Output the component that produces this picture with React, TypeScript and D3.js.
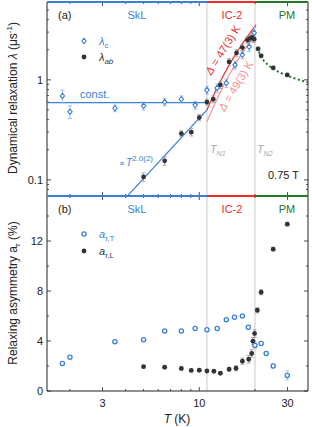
import React from 'react';
import * as d3 from 'd3';

// panel (a): relaxation rate lambda (us^-1)
const tempsC = [1.82, 2.0, 3.5, 5.0, 6.5, 8.0, 9.5, 11.0, 12.5, 14.0, 15.6, 17.1, 18.6, 19.8];
const lambdaC = [0.69, 0.48, 0.52, 0.55, 0.6, 0.64, 0.56, 0.79, 0.83, 0.93, 1.41, 1.78, 2.14, 2.95];
const lambdaCErr = [0.1, 0.07, 0.04, 0.05, 0.05, 0.05, 0.05, 0.07, 0.08, 0.09, 0.13, 0.16, 0.22, 0.4];

const tempsAB = [5.0, 6.5, 8.0, 9.05, 10.0, 11.0, 11.9, 13.0, 14.5, 15.9, 17.1, 18.2, 18.8, 19.3, 19.8, 20.8, 21.6, 25.1, 29.9];
const lambdaAB = [0.107, 0.155, 0.29, 0.3, 0.42, 0.6, 0.64, 0.89, 1.51, 1.86, 2.1, 2.5, 2.6, 2.65, 2.55, 2.04, 1.74, 1.32, 1.12];
const lambdaABErr = [0.01, 0.015, 0.02, 0.025, 0.03, 0.04, 0.05, 0.07, 0.12, 0.14, 0.15, 0.18, 0.2, 0.22, 0.2, 0.08, 0.06, 0.05, 0.04];

// panel (b): relaxing asymmetry (%)
const tempsT = [1.82, 2.0, 3.5, 5.0, 6.5, 8.0, 9.5, 11.0, 12.5, 14.0, 15.5, 17.1, 18.4, 20.0, 21.6, 23.0, 25.1, 29.9];
const asymT = [2.2, 2.7, 3.95, 4.1, 4.8, 4.8, 5.0, 4.9, 5.0, 5.7, 5.9, 6.0, 5.1, 3.65, 3.8, 3.0, 2.0, 1.25];
const asymTErr = [0.1, 0.1, 0.1, 0.1, 0.1, 0.1, 0.1, 0.1, 0.1, 0.1, 0.1, 0.1, 0.15, 0.2, 0.15, 0.15, 0.15, 0.35];

const tempsL = [5.0, 6.5, 8.0, 9.05, 10.0, 11.0, 12.0, 13.0, 14.5, 15.8, 17.1, 18.5, 19.2, 19.5, 19.9, 20.6, 21.6, 25.1, 29.9];
const asymL = [1.95, 1.9, 1.8, 1.65, 1.66, 1.6, 1.58, 1.42, 1.74, 1.82, 2.38, 2.54, 3.0, 3.98, 4.6, 6.46, 7.9, 11.35, 13.35];
const asymLErr = [0.1, 0.1, 0.1, 0.1, 0.1, 0.1, 0.1, 0.1, 0.15, 0.2, 0.25, 0.3, 0.3, 0.3, 0.3, 0.2, 0.2, 0.15, 0.15];

// fits and transitions
const TN1 = 11;
const TN2 = 20;
const constLambda = 0.593;
const powerAmp = 0.5; // lambda = powerAmp * (T / TN1)^2
const powerExp = 2.0;
const gap1 = 47, gap1Start = 0.5;
const gap2 = 49, gap2Start = 0.38;
const pmAmp = 0.93, pmExp = 0.24;

const xTicksMajor = [3, 10, 30];
const yTicksA = [0.1, 1];
const yTicksB = [0, 4, 8, 12];

const BLUE = '#3b7fd6';
const RED = '#ee2b2b';
const PINK = '#f49191';
const GREEN = '#23782a';
const DARK = '#333';
const FONT = 'Liberation Sans, Arial, sans-serif';

const L = 47, R = 308, aTop = 2, mid = 196, bBot = 391;

export default function App() {
  const x = d3.scaleLog().domain([1.503, 38.7]).range([L, R]);
  const yA = d3.scaleLog().domain([0.069, 6]).range([mid, aTop]);
  const yB = d3.scaleLinear().domain([0, 15.6]).range([bBot, mid]);

  const xMinor = x.ticks().filter(t => t > 1.5 && t < 38.7);
  const yAMinor = yA.ticks().filter(t => t >= 0.069 && t <= 6);
  const yBMinor = d3.range(0, 16, 2);

  const lineA = d3.line<[number, number]>().x(d => x(d[0])).y(d => yA(d[1]));
  const sample = (t0: number, t1: number, f: (t: number) => number) =>
    d3.range(0, 41).map(i => {
      const t = t0 * Math.pow(t1 / t0, i / 40);
      return [t, f(t)] as [number, number];
    });

  const powerLo = TN1 * Math.sqrt(0.069 / powerAmp);
  const powerPts = sample(powerLo, TN1, t => powerAmp * Math.pow(t / TN1, powerExp));
  const gap1Pts = sample(TN1, 20.3, t => gap1Start * Math.exp(gap1 * (1 / TN1 - 1 / t)));
  const gap2Pts = sample(TN1, 20.1, t => gap2Start * Math.exp(gap2 * (1 / TN1 - 1 / t)));
  const pmPts = sample(21.0, 38.7, t => pmAmp * Math.pow((t - TN2) / TN2, -pmExp));

  const diamond = (cx: number, cy: number, k: number) => (
    <path key={k} d={`M${cx},${cy - 2.7}L${cx + 2.2},${cy}L${cx},${cy + 2.7}L${cx - 2.2},${cy}Z`}
      fill="white" stroke={BLUE} strokeWidth={1.1} />
  );

  const errBar = (cx: number, y1: number, y2: number, color: string, k: string) => (
    <g key={k} stroke={color} strokeWidth={0.8}>
      <line x1={cx} x2={cx} y1={y1} y2={y2} />
      <line x1={cx - 2} x2={cx + 2} y1={y1} y2={y1} />
      <line x1={cx - 2} x2={cx + 2} y1={y2} y2={y2} />
    </g>
  );

  const phaseLine = (y: number) => (
    <g strokeWidth={2}>
      <line x1={L} x2={x(TN1)} y1={y} y2={y} stroke={BLUE} />
      <line x1={x(TN1)} x2={x(TN2)} y1={y} y2={y} stroke={RED} />
      <line x1={x(TN2)} x2={R} y1={y} y2={y} stroke={GREEN} />
    </g>
  );

  const phaseLabels = (y: number) => (
    <g fontSize={11} textAnchor="middle">
      <text x={137} y={y} fill={BLUE}>SkL</text>
      <text x={232} y={y} fill={RED}>IC-2</text>
      <text x={287} y={y} fill={GREEN}>PM</text>
    </g>
  );

  return (
    <svg width={312} height={427} style={{ position: 'absolute', left: 0, top: 0, fontFamily: FONT }}>
      <rect width={312} height={427} fill="white" />

      {/* transition markers */}
      {[TN1, TN2].map(t => (
        <line key={t} x1={x(t)} x2={x(t)} y1={aTop} y2={bBot} stroke="#dcdcdc" strokeWidth={1.5} />
      ))}

      {/* frame */}
      <g stroke="#222" strokeWidth={1} fill="none">
        <line x1={L} x2={L} y1={aTop} y2={bBot} />
        <line x1={R} x2={R} y1={aTop} y2={bBot} />
        <line x1={L} x2={R} y1={bBot} y2={bBot} />
      </g>

      {/* ticks */}
      <g stroke="#222" strokeWidth={0.8}>
        {xMinor.map(t => {
          const len = xTicksMajor.includes(t) ? 4 : 2;
          return (
            <g key={t}>
              <line x1={x(t)} x2={x(t)} y1={bBot} y2={bBot - len} />
              <line x1={x(t)} x2={x(t)} y1={mid} y2={mid - len} />
              <line x1={x(t)} x2={x(t)} y1={mid} y2={mid + len} />
              <line x1={x(t)} x2={x(t)} y1={aTop} y2={aTop + len} />
            </g>
          );
        })}
        {yAMinor.map(t => {
          const len = yTicksA.includes(t) ? 4 : 2;
          return (
            <g key={t}>
              <line x1={L} x2={L + len} y1={yA(t)} y2={yA(t)} />
              <line x1={R} x2={R - len} y1={yA(t)} y2={yA(t)} />
            </g>
          );
        })}
        {yBMinor.map(t => {
          const len = yTicksB.includes(t) ? 4 : 2;
          return (
            <g key={t}>
              <line x1={L} x2={L + len} y1={yB(t)} y2={yB(t)} />
              <line x1={R} x2={R - len} y1={yB(t)} y2={yB(t)} />
            </g>
          );
        })}
      </g>

      {phaseLine(aTop)}
      {phaseLine(mid)}

      {/* tick labels */}
      <g fontSize={11} fill="#222">
        {xTicksMajor.map(t => (
          <text key={t} x={x(t)} y={407} textAnchor="middle">{t}</text>
        ))}
        {yTicksA.map(t => (
          <text key={t} x={43} y={yA(t) + 4} textAnchor="end">{t}</text>
        ))}
        {yTicksB.map(t => (
          <text key={t} x={43} y={yB(t) + 4} textAnchor="end">{t}</text>
        ))}
      </g>

      {/* axis titles */}
      <text x={177} y={423} fontSize={12} textAnchor="middle" fill="#222">
        <tspan fontStyle="italic">T</tspan> (K)
      </text>
      <text transform="translate(17,98) rotate(-90)" fontSize={12} textAnchor="middle" fill="#222">
        Dynamical relaxation <tspan fontStyle="italic">λ</tspan> (μs<tspan fontSize={8} dy={-5}>-1</tspan><tspan dy={5}>)</tspan>
      </text>
      <text transform="translate(17,293) rotate(-90)" fontSize={12} textAnchor="middle" fill="#222">
        Relaxing asymmetry a<tspan fontSize={8} dy={3}>r</tspan><tspan dy={-3}> (%)</tspan>
      </text>

      {/* panel labels */}
      <text x={58} y={19} fontSize={11} fill="#222">(a)</text>
      <text x={58} y={213} fontSize={11} fill="#222">(b)</text>
      {phaseLabels(19)}
      {phaseLabels(213)}

      {/* fits panel a */}
      <clipPath id="clipA"><rect x={L} y={aTop} width={R - L} height={mid - aTop} /></clipPath>
      <g clipPath="url(#clipA)" fill="none">
        <line x1={L} x2={x(TN1)} y1={yA(constLambda)} y2={yA(constLambda)} stroke={BLUE} strokeWidth={1.2} />
        <path d={lineA(powerPts) ?? ''} stroke={BLUE} strokeWidth={1.2} />
        <path d={lineA(gap2Pts) ?? ''} stroke={PINK} strokeWidth={1.2} />
        <path d={lineA(gap1Pts) ?? ''} stroke={RED} strokeWidth={1.2} />
        <path d={lineA(pmPts) ?? ''} stroke={GREEN} strokeWidth={2} strokeDasharray="2,2.5" />
      </g>

      <text x={80} y={98} fontSize={11} fill={BLUE}>const.</text>
      <text x={119} y={166} fontSize={10} fill={BLUE}>
        <tspan fontSize={8}>∝</tspan><tspan fontStyle="italic" dx={1}>T</tspan><tspan fontSize={8} dy={-5}>2.0(2)</tspan>
      </text>
      <text transform="translate(226,52) rotate(-58)" fontSize={11} fill={RED} textAnchor="middle">
        <tspan fontStyle="italic">Δ</tspan> = 47(3) K
      </text>
      <text transform="translate(239,88) rotate(-59)" fontSize={11} fill={PINK} textAnchor="middle">
        <tspan fontStyle="italic">Δ</tspan> = 49(3) K
      </text>
      <text x={210} y={153} fontSize={11} fill="#a8a8a8" fontStyle="italic">
        T<tspan fontSize={7} dy={3}>N1</tspan>
      </text>
      <text x={257} y={153} fontSize={11} fill="#a8a8a8" fontStyle="italic">
        T<tspan fontSize={7} dy={3}>N2</tspan>
      </text>
      <text x={268} y={179} fontSize={11} fill="#222">0.75 T</text>

      {/* panel a data */}
      {tempsC.map((t, i) => errBar(x(t), yA(lambdaC[i] - lambdaCErr[i]), yA(lambdaC[i] + lambdaCErr[i]), '#8db3e6', 'ec' + i))}
      {tempsAB.map((t, i) => errBar(x(t), yA(lambdaAB[i] - lambdaABErr[i]), yA(lambdaAB[i] + lambdaABErr[i]), '#999', 'ea' + i))}
      {tempsAB.map((t, i) => <circle key={'a' + i} cx={x(t)} cy={yA(lambdaAB[i])} r={2.4} fill={DARK} />)}
      {tempsC.map((t, i) => diamond(x(t), yA(lambdaC[i]), i))}

      {/* legend a */}
      {diamond(84, 41, 100)}
      <text x={99} y={45} fontSize={11} fill={BLUE}>
        <tspan fontStyle="italic">λ</tspan><tspan fontSize={8} dy={3}>c</tspan>
      </text>
      <circle cx={84} cy={57} r={2.4} fill={DARK} />
      <text x={99} y={61} fontSize={11} fill={DARK}>
        <tspan fontStyle="italic">λ</tspan><tspan fontSize={8} dy={3} fontStyle="italic">ab</tspan>
      </text>

      {/* panel b data */}
      {tempsT.map((t, i) => errBar(x(t), yB(asymT[i] - asymTErr[i]), yB(asymT[i] + asymTErr[i]), '#8db3e6', 'et' + i))}
      {tempsL.map((t, i) => errBar(x(t), yB(asymL[i] - asymLErr[i]), yB(asymL[i] + asymLErr[i]), '#999', 'el' + i))}
      {tempsL.map((t, i) => <circle key={'l' + i} cx={x(t)} cy={yB(asymL[i])} r={2.4} fill={DARK} />)}
      {tempsT.map((t, i) => (
        <circle key={'t' + i} cx={x(t)} cy={yB(asymT[i])} r={2.1} fill="white" stroke={BLUE} strokeWidth={1.3} />
      ))}

      {/* legend b */}
      <circle cx={84} cy={234} r={2.1} fill="white" stroke={BLUE} strokeWidth={1.3} />
      <text x={99} y={238} fontSize={11} fill={BLUE}>
        <tspan fontStyle="italic">a</tspan><tspan fontSize={8} dy={3}>r,T</tspan>
      </text>
      <circle cx={84} cy={251} r={2.4} fill={DARK} />
      <text x={99} y={255} fontSize={11} fill={DARK}>
        <tspan fontStyle="italic">a</tspan><tspan fontSize={8} dy={3}>r,L</tspan>
      </text>
    </svg>
  );
}
